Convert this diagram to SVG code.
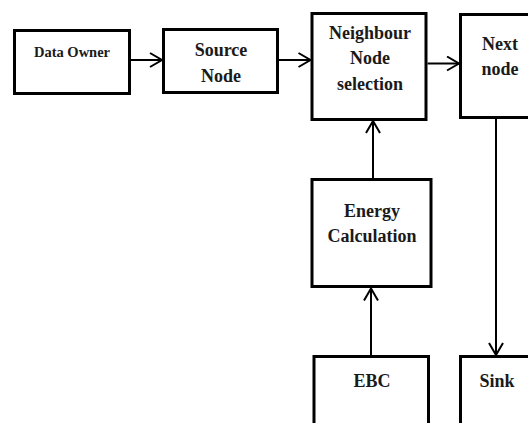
<svg xmlns="http://www.w3.org/2000/svg" width="528" height="423" viewBox="0 0 528 423">
<style>
.box{fill:#fff;stroke:#000;stroke-width:3}
.lbl{font-family:"Liberation Serif","Times New Roman",serif;font-weight:bold;font-size:18px;fill:#1a1a1a;text-anchor:middle}
.sm{font-size:14.5px}
.con{fill:none;stroke:#000;stroke-width:2;marker-end:url(#ah)}
</style>
<defs>
<marker id="ah" markerUnits="userSpaceOnUse" markerWidth="16" markerHeight="18" refX="13" refY="8" orient="auto">
<path d="M1,1 L13,8 L1,15" fill="none" stroke="#000" stroke-width="2"/>
</marker>
</defs>
<rect width="528" height="423" fill="#fff"/>
<g id="data-owner"><rect class="box" x="14.5" y="30.5" width="115" height="63"/><text class="lbl sm" x="72" y="57">Data Owner</text></g>
<g id="source-node"><rect class="box" x="163.5" y="29.5" width="114" height="63"/><text class="lbl" x="221" y="56">Source</text><text class="lbl" x="221" y="82">Node</text></g>
<g id="neighbour"><rect class="box" x="312" y="13.5" width="114" height="106"/><text class="lbl" x="370" y="39">Neighbour</text><text class="lbl" x="370" y="64">Node</text><text class="lbl" x="370" y="90">selection</text></g>
<g id="next-node"><rect class="box" x="460.5" y="14.5" width="80" height="103"/><text class="lbl" x="500" y="50">Next</text><text class="lbl" x="500" y="75">node</text></g>
<g id="energy"><rect class="box" x="312" y="179.5" width="119" height="107"/><text class="lbl" x="372" y="217">Energy</text><text class="lbl" x="372" y="242">Calculation</text></g>
<g id="ebc"><rect class="box" x="314" y="356.5" width="114.5" height="80"/><text class="lbl" x="372" y="387">EBC</text></g>
<g id="sink"><rect class="box" x="460.5" y="356.5" width="80" height="80"/><text class="lbl" x="497" y="387">Sink</text></g>
<g id="connectors">
<path class="con" d="M131,60 L162,60"/>
<path class="con" d="M279,60 L310.5,60"/>
<path class="con" d="M427.5,63.5 L459,63.5"/>
<path class="con" d="M373,178 L373,121"/>
<path class="con" d="M371,355 L371,288.5"/>
<path class="con" d="M496,119 L496,355"/>
</g>
</svg>
